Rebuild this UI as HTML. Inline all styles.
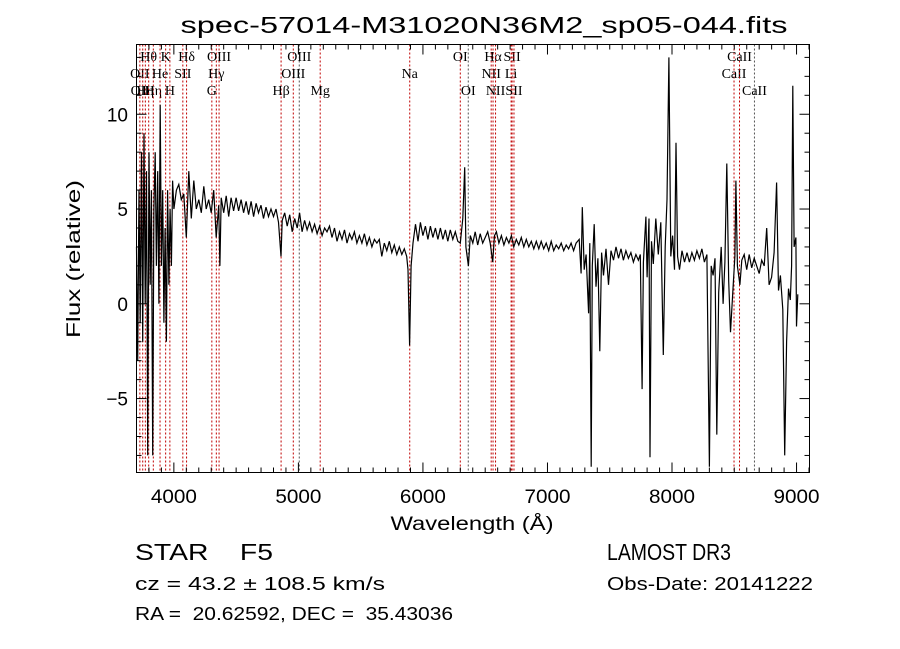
<!DOCTYPE html>
<html><head><meta charset="utf-8"><style>
html,body{margin:0;padding:0;background:#fff}
svg{display:block}
text{font-family:"Liberation Sans",sans-serif;fill:#000;white-space:pre}
.ser{font-family:"Liberation Serif",serif}
</style></head><body>
<svg id="chart" width="900" height="649" viewBox="0 0 900 649" xmlns="http://www.w3.org/2000/svg" xml:space="preserve">
<text x="484" y="33" text-anchor="middle" font-size="23" textLength="607" lengthAdjust="spacingAndGlyphs">spec-57014-M31020N36M2_sp05-044.fits</text>
<g id="lines"></g>
<path id="spec" fill="none" stroke="#000" stroke-width="1.2"/>
<rect x="136.5" y="44.5" width="673" height="428" fill="none" stroke="#000" stroke-width="1"/>
<g id="ticks"></g>
<text x="472" y="530" text-anchor="middle" font-size="19" textLength="163" lengthAdjust="spacingAndGlyphs">Wavelength (Å)</text>
<text transform="translate(80,259) rotate(-90)" text-anchor="middle" font-size="19" textLength="158" lengthAdjust="spacingAndGlyphs">Flux (relative)</text>
<text x="135" y="560" font-size="23" textLength="138" lengthAdjust="spacingAndGlyphs">STAR    F5</text>
<text x="607" y="560" font-size="23" textLength="124" lengthAdjust="spacingAndGlyphs">LAMOST DR3</text>
<text x="135" y="590" font-size="18" textLength="250" lengthAdjust="spacingAndGlyphs">cz = 43.2 ± 108.5 km/s</text>
<text x="607" y="590" font-size="18" textLength="206" lengthAdjust="spacingAndGlyphs">Obs-Date: 20141222</text>
<text x="135" y="620" font-size="18" textLength="318" lengthAdjust="spacingAndGlyphs">RA =  20.62592, DEC =  35.43036</text>
</svg>
<script>
const wl=[
3700,3710,3720,3730,3740,3750,3760,3770,3780,3790,
3800,3810,3820,3830,3840,3850,3860,3870,3880,3890,
3900,3910,3920,3930,3940,3950,3960,3970,3980,3990,
4000,4020,4040,4060,4080,4100,4120,4140,4160,4180,
4200,4220,4240,4260,4280,4300,4320,4340,4360,4370,
4380,4400,4420,4440,4460,4480,4500,4520,4540,4560,
4580,4600,4620,4640,4660,4680,4700,4720,4740,4760,
4780,4800,4820,4840,4860,4870,4890,4910,4930,4950,
4970,4990,5010,5030,5050,5070,5090,5110,5130,5150,
5170,5190,5210,5230,5250,5270,5290,5310,5330,5350,
5370,5390,5410,5430,5450,5470,5490,5510,5530,5550,
5570,5590,5610,5630,5650,5670,5690,5710,5730,5750,
5770,5790,5810,5830,5850,5870,5880,5893,5905,5920,
5940,5960,5980,6000,6020,6040,6060,6080,6100,6120,
6140,6160,6180,6200,6220,6240,6260,6280,6300,6320,
6335,6345,6365,6380,6400,6420,6440,6460,6480,6500,
6520,6540,6560,6575,6590,6610,6630,6650,6670,6690,
6710,6730,6750,6770,6790,6810,6830,6850,6870,6890,
6910,6930,6950,6970,6990,7010,7030,7050,7070,7090,
7110,7130,7150,7170,7190,7210,7230,7255,7270,7280,
7295,7310,7330,7340,7351,7360,7375,7390,7405,7420,
7435,7450,7470,7490,7510,7530,7550,7570,7590,7610,
7630,7650,7670,7690,7710,7730,7745,7760,7770,7790,
7800,7815,7823,7835,7850,7870,7890,7910,7930,7945,
7960,7975,7990,8005,8020,8032,8045,8060,8080,8100,
8120,8140,8160,8180,8200,8220,8240,8260,8280,8300,
8315,8330,8345,8360,8375,8395,8410,8425,8440,8455,
8470,8490,8505,8513,8525,8545,8560,8580,8600,8620,
8640,8660,8680,8700,8720,8740,8760,8780,8800,8820,
8840,8855,8870,8890,8905,8920,8935,8950,8960,8970,
8980,8995,9000,9010];
const flux=[
3,-3,6,-1,8,-2,9,0,7,-8,
8,1,6,-8,5,8,2,7,0,10.5,
2,6,-1,4,-2,6,1,5,2,6.5,
5,6,6.3,5.5,5.8,3.5,7,4.5,6.5,5,
5.5,4.8,6.2,5,5.5,4.8,6,3.5,5.2,2,
5.6,4.8,5.7,4.6,5.6,4.9,5.6,4.9,5.5,4.8,
5.4,4.7,5.4,4.6,5.3,4.8,5.2,4.5,5.1,4.6,
5.0,4.6,5.0,4.3,2.5,4.4,4.8,4.1,4.7,3.8,
4.5,4.0,4.8,3.8,4.4,3.9,4.3,3.8,4.2,3.7,
4.1,3.6,4.0,3.8,4.1,3.5,4.0,3.3,3.8,3.4,
3.9,3.2,3.7,3.4,3.8,3.2,3.6,3.2,3.7,3.1,
3.5,3.0,3.4,3.2,3.4,2.5,3.2,2.8,3.3,2.7,
3.1,2.6,3.0,2.6,2.9,2.5,1.8,-2.2,2.0,3.2,
4.2,3.3,4.3,3.6,4.1,3.4,4.1,3.5,4.0,3.4,
4.0,3.4,3.9,3.3,3.9,3.4,3.8,3.3,3.2,4.5,
7.2,3.0,2.0,3.6,3.2,3.8,3.1,3.7,3.2,3.5,
3.8,3.2,2.2,3.6,3.8,3.2,3.6,3.1,3.5,3.2,
3.6,3.0,3.4,3.1,3.5,3.0,3.4,3.0,3.3,2.9,
3.3,2.9,3.3,2.9,3.2,2.8,3.3,2.8,3.1,2.9,
3.2,2.8,3.1,2.9,3.2,2.8,3.2,3.4,1.6,5.1,
1.8,2.6,-0.5,3.2,-8.6,2.0,4.2,0.9,2.4,-2.5,
2.7,1.5,2.9,1.0,2.8,2.3,3.0,2.4,2.9,2.3,
2.8,2.4,2.7,2.2,2.6,2.3,2.6,-4.5,2.2,4.6,
1.4,4.5,-8.1,3.3,2.1,4.5,2.6,4.3,-2.7,3.0,
5.5,13.0,2.5,3.6,1.8,8.5,2.5,1.8,2.8,2.2,
2.7,2.2,2.7,2.3,2.8,2.4,2.9,2.2,2.6,-8.6,
2.0,1.5,2.4,-6.9,0.6,3.0,0.0,2.2,7.4,1.2,
-1.5,0.8,2.5,6.5,2.0,1.0,2.3,2.6,1.8,2.6,
1.9,2.4,2.0,1.6,2.3,2.0,4.0,1.0,1.4,2.7,
6.4,0.7,1.5,-0.3,-8.0,-2.0,0.8,0.2,2.0,11.5,
3.0,3.5,-1.2,0.5];
const lineWl=[3727,3750,3771,3798,3835,3889,3934,3968,4072,4102,4305,4341,4363,4861,4959,5007,5175,5894,6300,6364,6548,6563,6583,6708,6716,6731,8498,8542,8662];
const lineLbl=["OII","OIII","Hη","Hθ","Hη","He","K","H","SII","Hδ","G","Hγ","OIII","Hβ","OIII","OIII","Mg","Na","OI","OI","NII","Hα","NII","Li","SII","SII","CaII","CaII","CaII"];
const lineRow=[1,2,2,0,2,1,0,2,1,0,2,1,0,2,1,0,2,1,0,2,1,0,2,1,0,2,1,0,2];
const lineDark=[0,0,0,0,0,0,0,0,0,0,0,0,0,0,0,1,0,0,0,1,0,0,0,0,0,0,0,0,1];
const xTicks=[4000,5000,6000,7000,8000,9000];
const yTicks=[10,5,0,-5];
const X0=3700,X1=9104,Y0=-8.9,Y1=13.68,L=136.5,R=809.5,T=44.5,B=472.5;
const sx=w=>L+(w-X0)/(X1-X0)*(R-L);
const sy=f=>B-(f-Y0)/(Y1-Y0)*(B-T);
const NS="http://www.w3.org/2000/svg";
function mk(tag,attrs,parent){const e=document.createElementNS(NS,tag);for(const k in attrs)e.setAttribute(k,attrs[k]);parent.appendChild(e);return e;}
const lg=document.getElementById('lines');
const rowY=[61,78,95];
lineWl.forEach((w,i)=>{
  const x=sx(w);
  const l=mk('line',{x1:x,x2:x,y1:T,y2:B,stroke:lineDark[i]?'#555':'#c00000','stroke-width':1,'stroke-dasharray':'2,2'},lg);
  
  
  const t=mk('text',{x:x,y:rowY[lineRow[i]],'text-anchor':'middle','font-size':14,class:'ser'},lg);
  t.textContent=lineLbl[i];
  
  
});
let d='';
const n=Math.min(wl.length,flux.length);
for(let i=0;i<n;i++){d+=(i?'L':'M')+sx(wl[i]).toFixed(1)+','+sy(Math.max(Y0,Math.min(Y1,flux[i]))).toFixed(1);}
document.getElementById('spec').setAttribute('d',d);
const tg=document.getElementById('ticks');
for(let w=3800;w<=9100;w+=100){
  const x=sx(w),maj=w%1000===0,len=maj?10:5;
  mk('line',{x1:x,x2:x,y1:B,y2:B-len,stroke:'#000'},tg);
  mk('line',{x1:x,x2:x,y1:T,y2:T+len,stroke:'#000'},tg);
}
for(let f=-8;f<=13;f++){
  const y=sy(f),maj=f%5===0,len=maj?10:5;
  mk('line',{x1:L,x2:L+len,y1:y,y2:y,stroke:'#000'},tg);
  mk('line',{x1:R,x2:R-len,y1:y,y2:y,stroke:'#000'},tg);
}
xTicks.forEach(w=>{
  const t=mk('text',{x:sx(w),y:503,'text-anchor':'middle','font-size':19,textLength:46,lengthAdjust:'spacingAndGlyphs'},tg);
  t.textContent=w;
  
  
});
yTicks.forEach(f=>{
  const t=mk('text',{x:128,y:sy(f)+7,'text-anchor':'end','font-size':19},tg);
  t.textContent=f<0?'−'+(-f):f;
  
  
});
</script>
</body></html>
